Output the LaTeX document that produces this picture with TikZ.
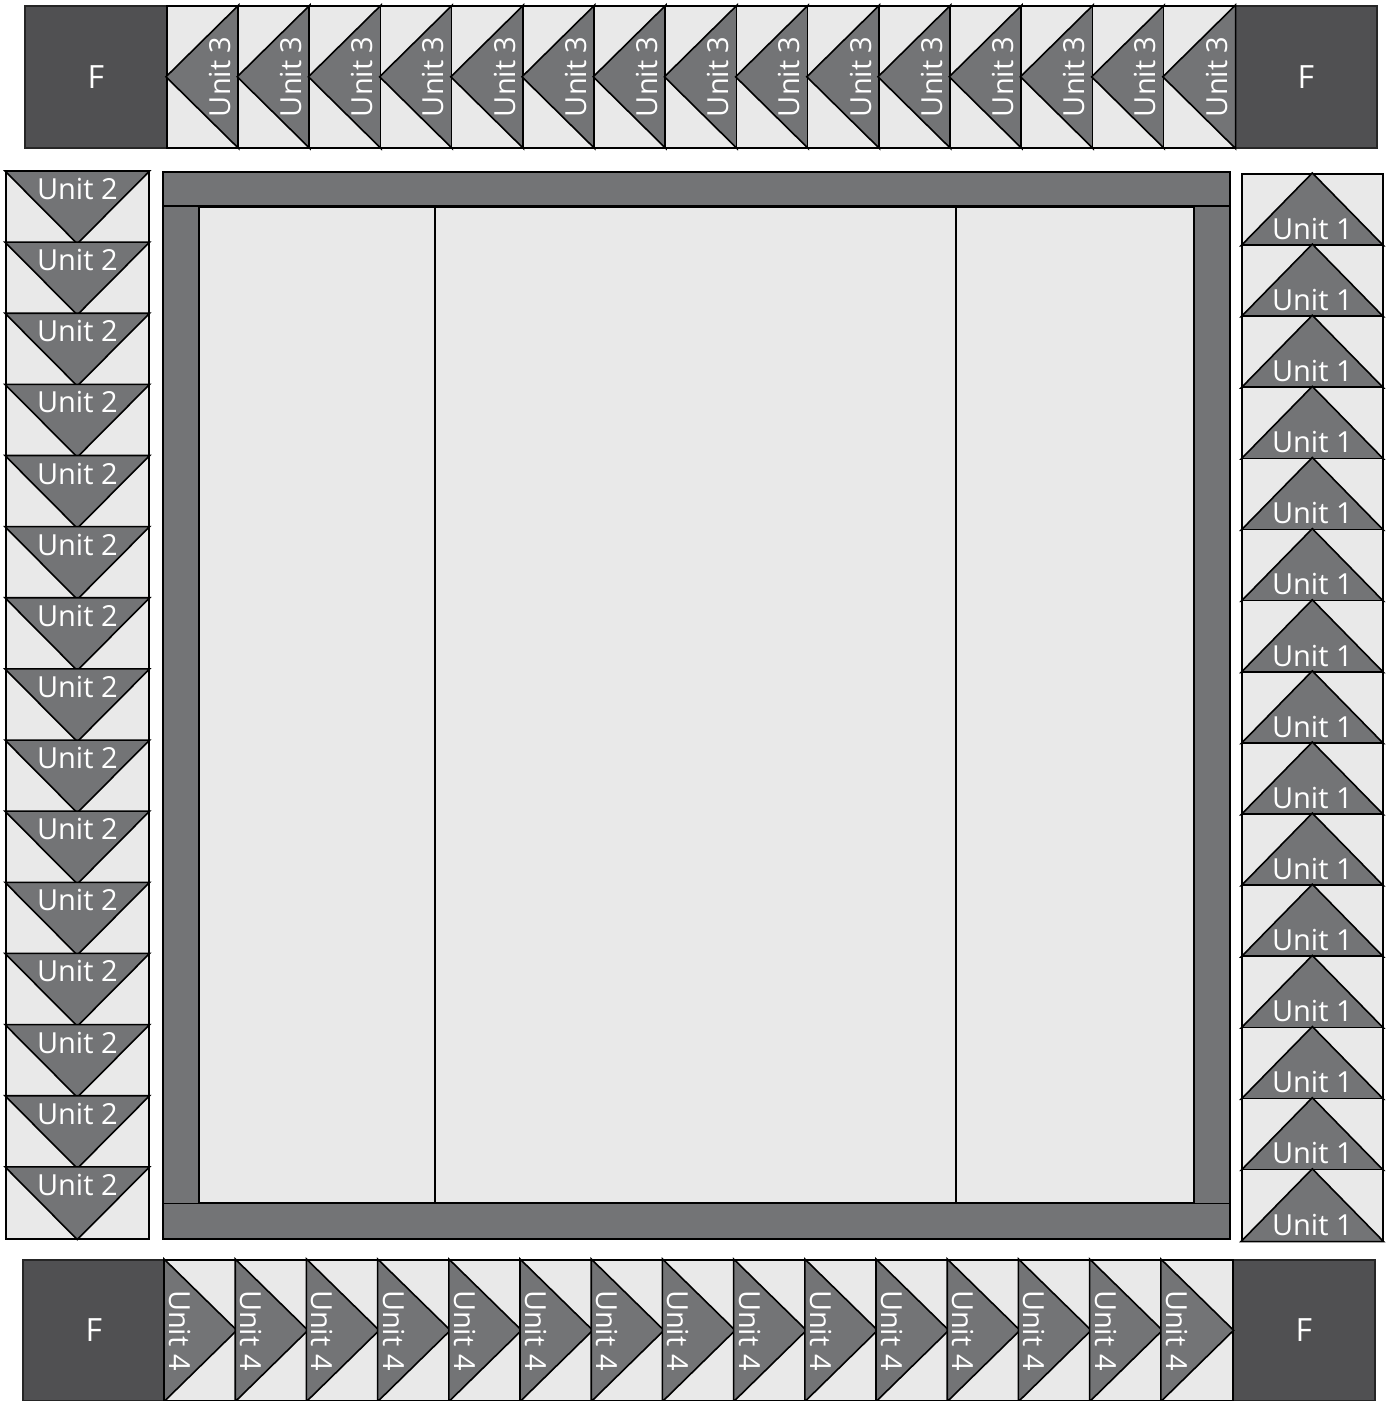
\documentclass[tikz,border=0pt]{standalone}
\usepackage{fontspec}
\setmainfont{Open Sans}
\usepackage{xcolor}
\usepackage{tikz}
\usetikzlibrary{calc}
\definecolor{quiltdark}{HTML}{505052}
\definecolor{quiltmid}{HTML}{737476}
\definecolor{quiltlight}{HTML}{E9E9E9}

\tikzset{
  patch/.style={draw=black, line width=1.6pt, inner sep=0pt, anchor=north west},
  lightpatch/.style={patch, fill=quiltlight},
  midpatch/.style={patch, fill=quiltmid},
  cornerpatch/.style={patch, fill=quiltdark, draw=black!85, minimum width=142pt,
    minimum height=142pt, text=white, font=\fontsize{32}{32}\selectfont},
  goose/.style={fill=quiltmid, draw=black, line width=1.6pt},
  unitlabel/.style={text=white, inner sep=0pt, font=\fontsize{29}{29}\selectfont},
}

\begin{document}
\begin{tikzpicture}[x=1pt, y=-1pt]
    \useasboundingbox (0,0) rectangle (1387,1401);

    % corner blocks
    \node[cornerpatch] (ftopleft) at (24,5) {F};
    \node[cornerpatch] (ftopright) at (1234,5) {F};
    \node[cornerpatch, minimum height=141pt] (fbotleft) at (22,1259) {F};
    \node[cornerpatch, minimum height=141pt] (fbotright) at (1232,1259) {F};

    % top row, unit 3
    \foreach \i in {0,...,14} {
      \node[lightpatch, minimum width=71.2pt, minimum height=142pt] (top\i) at ({166+71.2*\i},5) {};
      \filldraw[goose] (top\i.north east) -- (top\i.west) -- (top\i.south east) -- cycle;
      \node[unitlabel, rotate=90] (lbltop\i) at ($(top\i.east)+(-19,0)$) {Unit 3};
    }

    % left column, unit 2
    \foreach \i in {0,...,14} {
      \node[lightpatch, minimum width=143pt, minimum height=71.13pt] (left\i) at (5,{171+71.13*\i}) {};
      \filldraw[goose] (left\i.north west) -- (left\i.south) -- (left\i.north east) -- cycle;
      \node[unitlabel] (lblleft\i) at ($(left\i.north)+(0,18)$) {Unit 2};
    }

    % right column, unit 1
    \foreach \i in {0,...,14} {
      \node[lightpatch, minimum width=141pt, minimum height=71.13pt] (right\i) at (1241,{173+71.13*\i}) {};
      \filldraw[goose] (right\i.south west) -- (right\i.north) -- (right\i.south east) -- cycle;
      \node[unitlabel] (lblright\i) at ($(right\i.south)+(0,-17)$) {Unit 1};
    }

    % bottom row, unit 4
    \foreach \i in {0,...,14} {
      \node[lightpatch, minimum width=71.2pt, minimum height=141pt] (bot\i) at ({164+71.2*\i},1259) {};
      \filldraw[goose] (bot\i.north west) -- (bot\i.east) -- (bot\i.south west) -- cycle;
      \node[unitlabel, rotate=-90] (lblbot\i) at ($(bot\i.west)+(16,0)$) {Unit 4};
    }

    % centre panel with border
    \node[midpatch, minimum width=1067pt, minimum height=1067pt] (frame) at (162,171) {};
    \node[lightpatch, minimum width=995pt, minimum height=996pt] (inner) at (198,206) {};
    \draw[line width=1.6pt] (frame.west |- inner.north) -- (frame.east |- inner.north);
    \draw[line width=1.6pt] (frame.west |- inner.south) -- (frame.east |- inner.south);
    \draw[line width=1.6pt] ($(inner.north west)+(237,0)$) -- ($(inner.south west)+(237,0)$);
    \draw[line width=1.6pt] ($(inner.north west)+(758,0)$) -- ($(inner.south west)+(758,0)$);
\end{tikzpicture}
\end{document}
